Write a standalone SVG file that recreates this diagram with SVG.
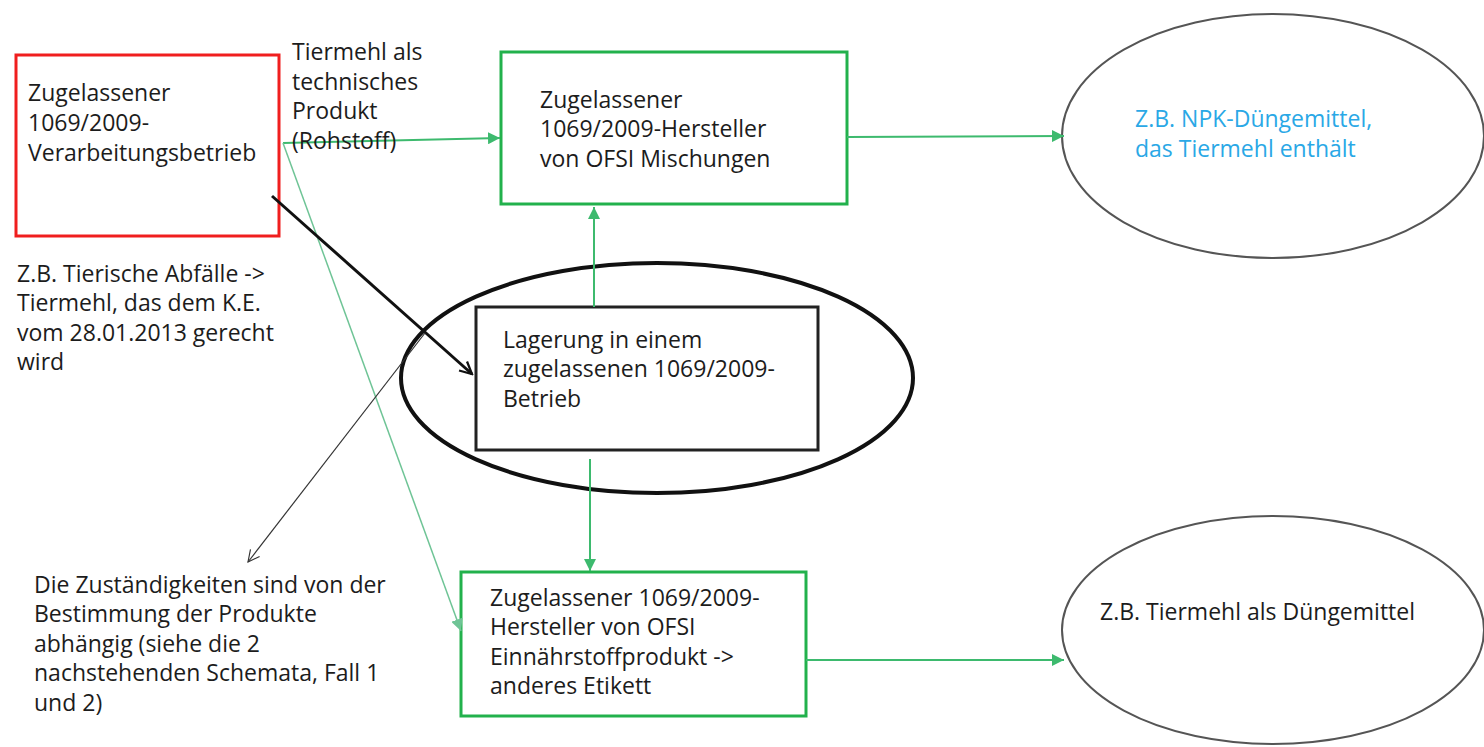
<svg xmlns="http://www.w3.org/2000/svg" width="1484" height="747" viewBox="0 0 1484 747">
<defs>
<style>
text{font-family:"Open Sans","Noto Sans",sans-serif;font-size:23px;fill:#1c1c1c}
.gbox{fill:#fff;stroke:#22b14c;stroke-width:3}
.gl{fill:none;stroke:#3dba6e;stroke-width:2}
.gl2{fill:none;stroke:#6fc496;stroke-width:1.5}
.ov{fill:#fff;stroke:#555;stroke-width:2}
</style>
<marker id="ga" viewBox="0 0 10 10" refX="10" refY="5" markerWidth="6" markerHeight="6" markerUnits="strokeWidth" orient="auto"><path d="M0,0 L10,5 L0,10 z" fill="#3dba6e"/></marker>
<marker id="ga2" viewBox="0 0 10 10" refX="10" refY="5" markerWidth="8" markerHeight="8" markerUnits="strokeWidth" orient="auto"><path d="M0,0 L10,5 L0,10 z" fill="#6fc496"/></marker>
<marker id="ba" viewBox="0 0 10 10" refX="9" refY="5" markerWidth="5" markerHeight="5" markerUnits="strokeWidth" orient="auto"><path d="M1,1 L9,5 L1,9" fill="none" stroke="#111" stroke-width="1.5"/></marker>
<marker id="ba2" viewBox="0 0 10 10" refX="9" refY="5" markerWidth="12" markerHeight="12" markerUnits="strokeWidth" orient="auto"><path d="M1,1 L9,5 L1,9" fill="none" stroke="#333" stroke-width="0.8"/></marker>
</defs>
<rect width="1484" height="747" fill="#fff"/>

<g id="storage-ellipse">
<ellipse cx="657" cy="378" rx="256" ry="115" fill="none" stroke="#111" stroke-width="4"/>
</g>

<g id="n-verarbeitung">
<rect x="16" y="55" width="263" height="181" fill="#fff" stroke="#f01e1e" stroke-width="3"/>
<text x="28" y="101">Zugelassener</text>
<text x="28" y="131">1069/2009-</text>
<text x="28" y="161">Verarbeitungsbetrieb</text>
</g>

<g id="n-hersteller-mischungen">
<rect class="gbox" x="501" y="52" width="346" height="152"/>
<text x="540" y="108">Zugelassener</text>
<text x="540" y="137">1069/2009-Hersteller</text>
<text x="540" y="167">von OFSI Mischungen</text>
</g>

<g id="n-lagerung">
<rect x="476" y="307" width="342" height="143" fill="#fff" stroke="#222" stroke-width="3"/>
<text x="503" y="348">Lagerung in einem</text>
<text x="503" y="377">zugelassenen 1069/2009-</text>
<text x="503" y="407">Betrieb</text>
</g>

<g id="n-hersteller-einnaehr">
<rect class="gbox" x="461" y="572" width="345" height="144"/>
<text x="490" y="606">Zugelassener 1069/2009-</text>
<text x="490" y="635">Hersteller von OFSI</text>
<text x="490" y="665">Einnährstoffprodukt -&gt;</text>
<text x="490" y="694">anderes Etikett</text>
</g>

<g id="n-npk">
<ellipse class="ov" cx="1273" cy="136" rx="211" ry="122"/>
<text x="1135" y="127" style="fill:#2aa8e6">Z.B. NPK-Düngemittel,</text>
<text x="1135" y="157" style="fill:#2aa8e6">das Tiermehl enthält</text>
</g>

<g id="n-tiermehl-duenger">
<ellipse class="ov" cx="1273" cy="630" rx="211" ry="114"/>
<text x="1100" y="620">Z.B. Tiermehl als Düngemittel</text>
</g>

<g id="t-tierische">
<text x="17" y="282">Z.B. Tierische Abfälle -&gt;</text>
<text x="17" y="311">Tiermehl, das dem K.E.</text>
<text x="17" y="341">vom 28.01.2013 gerecht</text>
<text x="17" y="370">wird</text>
</g>

<g id="t-zustaendigkeiten">
<text x="34" y="593">Die Zuständigkeiten sind von der</text>
<text x="34" y="622">Bestimmung der Produkte</text>
<text x="34" y="652">abhängig (siehe die 2</text>
<text x="34" y="681">nachstehenden Schemata, Fall 1</text>
<text x="34" y="711">und 2)</text>
</g>

<g id="connectors">
<path class="gl" d="M283,143 L500,138" marker-end="url(#ga)"/>
<path class="gl2" d="M283,143 L461,631" marker-end="url(#ga2)"/>
<path d="M272,196 L472,374" fill="none" stroke="#111" stroke-width="3" marker-end="url(#ba)"/>
<path d="M425,333 L248,562" fill="none" stroke="#333" stroke-width="1.2" marker-end="url(#ba2)"/>
<path class="gl" d="M594,307 L594,207" marker-end="url(#ga)"/>
<path class="gl" d="M590,459 L590,571" marker-end="url(#ga)"/>
<path class="gl" d="M847,137 L1064,136" marker-end="url(#ga)"/>
<path class="gl" d="M806,660 L1064,660" marker-end="url(#ga)"/>
<g id="label-tiermehl">
<text x="292" y="60">Tiermehl als</text>
<text x="292" y="90">technisches</text>
<text x="292" y="119">Produkt</text>
<text x="292" y="149">(Rohstoff)</text>
</g>
</g>
</svg>
